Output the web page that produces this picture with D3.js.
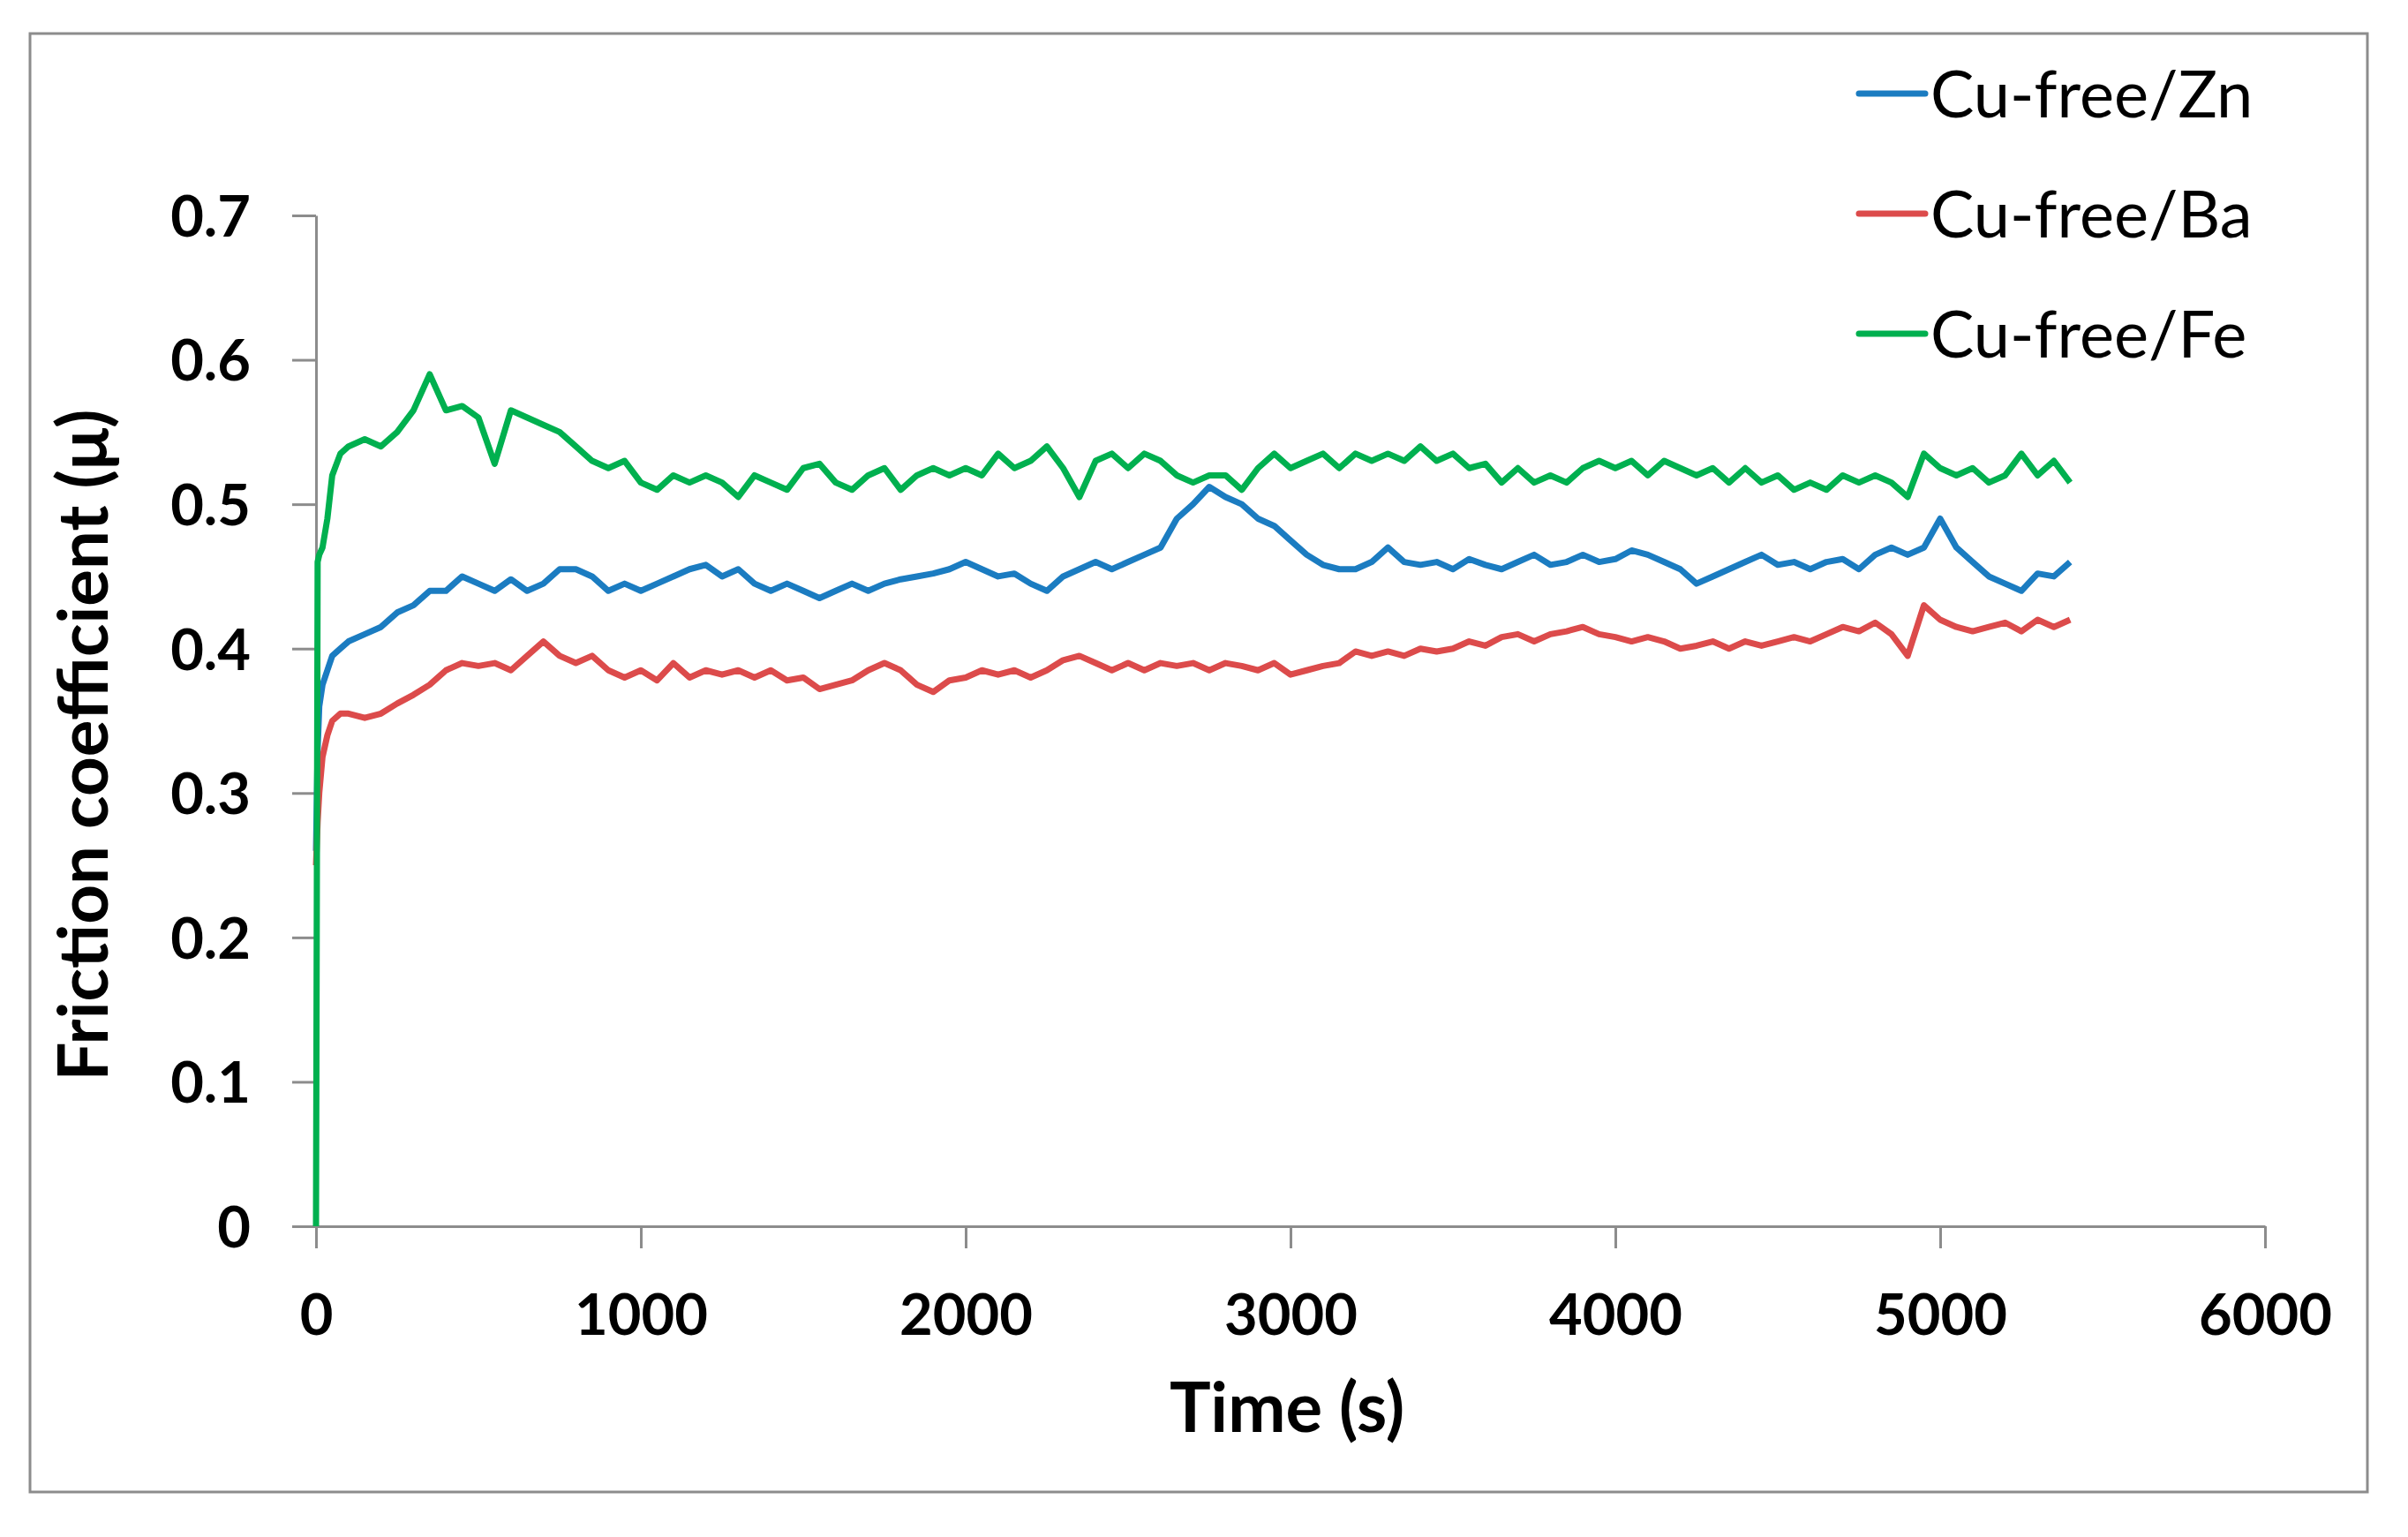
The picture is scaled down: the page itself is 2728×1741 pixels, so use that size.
<!DOCTYPE html>
<html>
<head>
<meta charset="utf-8">
<script src="https://cdn.jsdelivr.net/npm/d3@7"></script>
<style>
  html, body { margin: 0; padding: 0; background: #fff; }
  svg { display: block; }
</style>
</head>
<body>
<svg id="chart" width="2728" height="1741"></svg>
<script>
// ---- data ----
const seriesNames = ["Cu-free/Zn", "Cu-free/Ba", "Cu-free/Fe"];
const seriesColors = ["#1b7cc1", "#dc4b4b", "#00b04f"];
const xTicks = [0, 1000, 2000, 3000, 4000, 5000, 6000];
const yTicks = [0, 0.1, 0.2, 0.3, 0.4, 0.5, 0.6, 0.7];

const timeEarly = [0, 5, 10, 20, 35, 50, 75, 100];
const timeMain = d3.range(150, 5401, 50);
const timeS = timeEarly.concat(timeMain);

const muZn = [
  0.26, 0.33, 0.36, 0.375, 0.385, 0.395, 0.40, 0.405,
  0.41, 0.415, 0.425, 0.43, 0.44, 0.44, 0.45, 0.445, 0.44, 0.448,
  0.44, 0.445, 0.455, 0.455, 0.45, 0.44, 0.445, 0.44, 0.445, 0.45,
  0.455, 0.458, 0.45, 0.455, 0.445, 0.44, 0.445, 0.44, 0.435, 0.44,
  0.445, 0.44, 0.445, 0.448, 0.45, 0.452, 0.455, 0.46, 0.455, 0.45,
  0.452, 0.445, 0.44, 0.45, 0.455, 0.46, 0.455, 0.46, 0.465, 0.47,
  0.49, 0.50, 0.512, 0.505, 0.50, 0.49, 0.485, 0.475, 0.465, 0.458,
  0.455, 0.455, 0.46, 0.47, 0.46, 0.458, 0.46, 0.455, 0.462, 0.458,
  0.455, 0.46, 0.465, 0.458, 0.46, 0.465, 0.46, 0.462, 0.468, 0.465,
  0.46, 0.455, 0.445, 0.45, 0.455, 0.46, 0.465, 0.458, 0.46, 0.455,
  0.46, 0.462, 0.455, 0.465, 0.47, 0.465, 0.47, 0.49, 0.47, 0.46,
  0.45, 0.445, 0.44, 0.452, 0.45, 0.46
];
const muBa = [
  0.25, 0.28, 0.30, 0.325, 0.34, 0.35, 0.355, 0.355,
  0.352, 0.355, 0.362, 0.368, 0.375, 0.385, 0.39, 0.388, 0.39, 0.385,
  0.395, 0.405, 0.395, 0.39, 0.395, 0.385, 0.38, 0.385, 0.378, 0.39,
  0.38, 0.385, 0.382, 0.385, 0.38, 0.385, 0.378, 0.38, 0.372, 0.375,
  0.378, 0.385, 0.39, 0.385, 0.375, 0.37, 0.378, 0.38, 0.385, 0.382,
  0.385, 0.38, 0.385, 0.392, 0.395, 0.39, 0.385, 0.39, 0.385, 0.39,
  0.388, 0.39, 0.385, 0.39, 0.388, 0.385, 0.39, 0.382, 0.385, 0.388,
  0.39, 0.398, 0.395, 0.398, 0.395, 0.40, 0.398, 0.40, 0.405, 0.402,
  0.408, 0.41, 0.405, 0.41, 0.412, 0.415, 0.41, 0.408, 0.405, 0.408,
  0.405, 0.40, 0.402, 0.405, 0.40, 0.405, 0.402, 0.405, 0.408, 0.405,
  0.41, 0.415, 0.412, 0.418, 0.41, 0.395, 0.43, 0.42, 0.415, 0.412,
  0.415, 0.418, 0.412, 0.42, 0.415, 0.42
];
const muFe = [
  0, 0.46, 0.465, 0.47, 0.49, 0.52, 0.535, 0.54,
  0.545, 0.54, 0.55, 0.565, 0.59, 0.565, 0.568, 0.56, 0.528, 0.565,
  0.56, 0.555, 0.55, 0.54, 0.53, 0.525, 0.53, 0.515, 0.51, 0.52,
  0.515, 0.52, 0.515, 0.505, 0.52, 0.515, 0.51, 0.525, 0.528, 0.515,
  0.51, 0.52, 0.525, 0.51, 0.52, 0.525, 0.52, 0.525, 0.52, 0.535,
  0.525, 0.53, 0.54, 0.525, 0.505, 0.53, 0.535, 0.525, 0.535, 0.53,
  0.52, 0.515, 0.52, 0.52, 0.51, 0.525, 0.535, 0.525, 0.53, 0.535,
  0.525, 0.535, 0.53, 0.535, 0.53, 0.54, 0.53, 0.535, 0.525, 0.528,
  0.515, 0.525, 0.515, 0.52, 0.515, 0.525, 0.53, 0.525, 0.53, 0.52,
  0.53, 0.525, 0.52, 0.525, 0.515, 0.525, 0.515, 0.52, 0.51, 0.515,
  0.51, 0.52, 0.515, 0.52, 0.515, 0.505, 0.535, 0.525, 0.52, 0.525,
  0.515, 0.52, 0.535, 0.52, 0.53, 0.515
];
const seriesValues = [muZn, muBa, muFe];

// ---- layout ----
const svg = d3.select("#chart");
const plotLeft = 358, plotRight = 2566, plotTop = 244, plotBottom = 1389;
const axisColor = "#8c8c8c";

const x = d3.scaleLinear().domain([0, 6000]).range([plotLeft, plotRight]);
const y = d3.scaleLinear().domain([0, 0.7]).range([plotBottom, plotTop]);

// outer frame
svg.append("rect")
  .attr("x", 34).attr("y", 38)
  .attr("width", 2682 - 34).attr("height", 1690 - 38)
  .attr("fill", "none").attr("stroke", axisColor).attr("stroke-width", 3);

const tickFont = "Lato, 'Open Sans', sans-serif";

// y axis
const gy = svg.append("g").attr("transform", `translate(${plotLeft},0)`)
  .call(d3.axisLeft(y).tickValues(yTicks).tickSize(27).tickSizeOuter(0)
    .tickFormat(d => d === 0 ? "0" : d3.format(".1f")(d)));
gy.select(".domain").attr("stroke", axisColor).attr("stroke-width", 3);
gy.selectAll(".tick line").attr("stroke", axisColor).attr("stroke-width", 3);
gy.selectAll(".tick text")
  .attr("x", -74).attr("dy", "0.36em")
  .attr("font-family", tickFont).attr("font-weight", "bold")
  .attr("font-size", 65).attr("fill", "#000");

// x axis
const gx = svg.append("g").attr("transform", `translate(0,${plotBottom})`)
  .call(d3.axisBottom(x).tickValues(xTicks).tickSize(25).tickSizeOuter(0)
    .tickFormat(d3.format("d")));
gx.select(".domain").attr("stroke", axisColor).attr("stroke-width", 3);
gx.selectAll(".tick line").attr("stroke", axisColor).attr("stroke-width", 3);
gx.selectAll(".tick text")
  .attr("y", 123).attr("dy", null)
  .attr("font-family", tickFont).attr("font-weight", "bold")
  .attr("font-size", 65).attr("fill", "#000");

// axis titles
svg.append("text")
  .attr("x", (plotLeft + plotRight) / 2 - 4).attr("y", 1622)
  .attr("text-anchor", "middle")
  .attr("font-family", tickFont).attr("font-weight", "bold")
  .attr("font-size", 78).attr("fill", "#000")
  .text("Time (s)");

svg.append("text")
  .attr("transform", `translate(122,844) rotate(-90)`)
  .attr("text-anchor", "middle")
  .attr("font-family", tickFont).attr("font-weight", "bold")
  .attr("font-size", 78).attr("fill", "#000")
  .text("Friction coefficient (μ)");

// lines
const line = d3.line().x((d, i) => x(timeS[i])).y(d => y(d));
seriesValues.forEach((vals, k) => {
  svg.append("path")
    .datum(vals)
    .attr("d", line)
    .attr("fill", "none")
    .attr("stroke", seriesColors[k])
    .attr("stroke-width", 7)
    .attr("stroke-linejoin", "round");
});

// legend
const legendY = [106, 242, 378];
seriesNames.forEach((name, k) => {
  svg.append("line")
    .attr("x1", 2106).attr("x2", 2181)
    .attr("y1", legendY[k]).attr("y2", legendY[k])
    .attr("stroke", seriesColors[k]).attr("stroke-width", 7)
    .attr("stroke-linecap", "round");
  svg.append("text")
    .attr("x", 2187).attr("y", legendY[k]).attr("dy", "0.36em")
    .attr("font-family", tickFont)
    .attr("font-size", 74).attr("fill", "#000")
    .text(name);
});
</script>
</body>
</html>
